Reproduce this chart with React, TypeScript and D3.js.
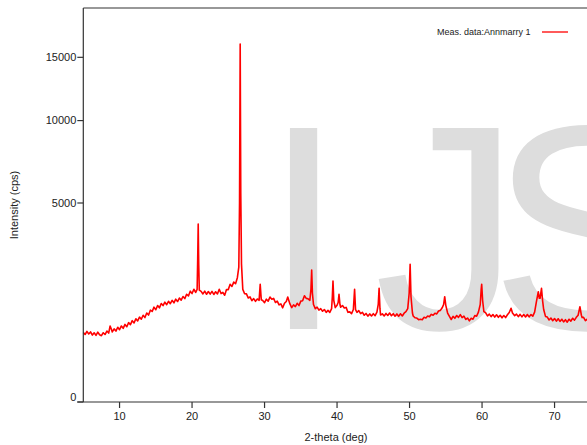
import React from "react";
import * as d3 from "d3";

const xTicks = [10, 20, 30, 40, 50, 60, 70];
const yTicks = [0, 5000, 10000, 15000];
const seriesName = "Meas. data:Annmarry 1";
const watermarkLetters = ["I", "J", "S"];

// [2-theta (deg), intensity (cps)]
const scan: [number, number][] = [
  [5.0, 610], [5.25, 575], [5.5, 630], [5.75, 585], [6.0, 620], [6.25, 565], [6.5, 605], [6.75, 560],
  [7.0, 615], [7.25, 570], [7.5, 555], [7.75, 605], [8.0, 575], [8.25, 635], [8.5, 600], [8.7, 730],
  [8.9, 660], [9.0, 620], [9.25, 675], [9.5, 635], [9.75, 705], [10.0, 660], [10.25, 730], [10.5, 685],
  [10.75, 760], [11.0, 715], [11.25, 795], [11.5, 755], [11.75, 835], [12.0, 790], [12.25, 875], [12.5, 830],
  [12.75, 910], [13.0, 865], [13.25, 950], [13.5, 900], [13.75, 1000], [14.0, 955], [14.25, 1065], [14.5, 1035],
  [14.75, 1135], [15.0, 1075], [15.25, 1175], [15.5, 1120], [15.75, 1225], [16.0, 1175], [16.25, 1260], [16.5, 1195],
  [16.75, 1280], [17.0, 1220], [17.25, 1305], [17.5, 1240], [17.75, 1335], [18.0, 1275], [18.25, 1365], [18.5, 1310],
  [18.75, 1405], [19.0, 1350], [19.25, 1465], [19.5, 1420], [19.75, 1550], [20.0, 1485], [20.25, 1605], [20.5, 1515],
  [20.7, 1600], [20.78, 2600], [20.85, 4000], [20.92, 2400], [21.0, 1580], [21.25, 1545], [21.5, 1475], [21.75, 1550],
  [22.0, 1465], [22.25, 1540], [22.5, 1470], [22.75, 1545], [23.0, 1460], [23.25, 1535], [23.5, 1475], [23.75, 1605],
  [24.0, 1485], [24.25, 1515], [24.5, 1440], [24.75, 1595], [25.0, 1595], [25.25, 1750], [25.5, 1685], [25.75, 1815],
  [26.0, 1765], [26.25, 1950], [26.45, 2300], [26.55, 5000], [26.64, 16180], [26.72, 5500], [26.82, 2400], [27.0, 1600],
  [27.25, 1480], [27.5, 1475], [27.75, 1365], [28.0, 1395], [28.25, 1295], [28.5, 1350], [28.75, 1280], [29.0, 1340],
  [29.25, 1305], [29.4, 1750], [29.55, 1320], [29.75, 1300], [30.0, 1245], [30.25, 1335], [30.5, 1285], [30.75, 1390],
  [31.0, 1335], [31.25, 1355], [31.5, 1250], [31.75, 1285], [32.0, 1190], [32.25, 1215], [32.5, 1120], [32.75, 1230],
  [33.0, 1275], [33.2, 1390], [33.5, 1215], [33.75, 1125], [34.0, 1190], [34.25, 1150], [34.5, 1230], [34.75, 1175],
  [35.0, 1285], [35.25, 1295], [35.5, 1425], [35.75, 1355], [36.0, 1345], [36.25, 1305], [36.4, 1600], [36.5, 2200],
  [36.6, 1500], [36.75, 1200], [37.0, 1100], [37.25, 1135], [37.5, 1065], [37.75, 1100], [38.0, 1040], [38.25, 1080],
  [38.5, 1015], [38.75, 1060], [39.0, 1015], [39.25, 1100], [39.35, 1400], [39.44, 1849], [39.55, 1300], [39.75, 1125],
  [40.0, 1180], [40.15, 1250], [40.27, 1465], [40.4, 1200], [40.5, 1135], [40.75, 1175], [41.0, 1115], [41.25, 1130],
  [41.5, 1015], [41.75, 1025], [42.0, 985], [42.25, 1080], [42.42, 1604], [42.55, 1080], [42.75, 1015], [43.0, 1055],
  [43.25, 985], [43.5, 1015], [43.75, 950], [44.0, 990], [44.25, 930], [44.5, 980], [44.75, 935], [45.0, 985],
  [45.25, 940], [45.5, 1020], [45.68, 1200], [45.8, 1633], [45.92, 1100], [46.0, 955], [46.25, 980], [46.5, 935],
  [46.75, 990], [47.0, 945], [47.25, 1000], [47.5, 940], [47.75, 985], [48.0, 930], [48.25, 980], [48.5, 930],
  [48.75, 983], [49.0, 935], [49.25, 995], [49.5, 1030], [49.75, 1100], [49.95, 1500], [50.08, 2394], [50.2, 1400],
  [50.4, 1000], [50.5, 935], [50.75, 895], [51.0, 890], [51.25, 855], [51.5, 865], [51.75, 855], [52.0, 905],
  [52.25, 890], [52.5, 935], [52.75, 920], [53.0, 970], [53.25, 950], [53.5, 995], [53.75, 980], [54.0, 1045],
  [54.25, 1060], [54.5, 1120], [54.7, 1200], [54.85, 1400], [55.0, 1180], [55.25, 1000], [55.5, 925], [55.75, 860],
  [56.0, 925], [56.25, 885], [56.5, 945], [56.75, 905], [57.0, 965], [57.25, 900], [57.5, 930], [57.75, 860],
  [58.0, 890], [58.25, 830], [58.5, 885], [58.75, 865], [59.0, 945], [59.25, 930], [59.5, 1020], [59.75, 1200],
  [59.88, 1600], [59.95, 1749], [60.08, 1300], [60.25, 1030], [60.5, 1005], [60.75, 935], [61.0, 975], [61.25, 920],
  [61.5, 965], [61.75, 910], [62.0, 960], [62.25, 905], [62.5, 950], [62.75, 895], [63.0, 945], [63.25, 900],
  [63.5, 960], [63.75, 1010], [64.0, 1109], [64.2, 1000], [64.5, 940], [64.75, 975], [65.0, 920], [65.25, 970],
  [65.5, 915], [65.75, 965], [66.0, 913], [66.25, 967], [66.5, 915], [66.75, 965], [67.0, 930], [67.25, 1020],
  [67.5, 1270], [67.76, 1536], [67.9, 1358], [68.0, 1358], [68.2, 1633], [68.35, 1300], [68.5, 1080], [68.75, 925],
  [69.0, 910], [69.25, 850], [69.5, 890], [69.75, 835], [70.0, 880], [70.25, 825], [70.5, 875], [70.75, 820],
  [71.0, 865], [71.25, 810], [71.5, 855], [71.75, 805], [72.0, 865], [72.25, 825], [72.5, 885], [72.75, 845],
  [73.0, 905], [73.25, 950], [73.5, 1147], [73.7, 950], [73.8, 900], [74.0, 905], [74.25, 835], [74.5, 865],
  [74.75, 830],
];

const W = 587;
const H = 445;
const left = 83.3;
const top = 8;
const bottom = 402;
const font = "'Liberation Sans', Arial, sans-serif";

export default function App() {
  const x = d3.scaleLinear().domain([5, 75]).range([left, left + 70 * 7.25]);
  const y = d3.scaleSqrt().domain([0, 19600]).range([bottom, top]);
  const line = d3
    .line<[number, number]>()
    .x((d) => x(d[0]))
    .y((d) => y(d[1]));
  const axisColor = "#333";
  const textColor = "#222";
  const wmDx = [0, 30, -30];

  return (
    <svg
      width={W}
      height={H}
      style={{ position: "absolute", left: 0, top: 0, background: "#fff" }}
      fontFamily={font}
    >
      <text x={263} y={329} fontSize={292} fill="#dddddd" fontFamily={font}>
        {watermarkLetters.map((c, i) => (
          <tspan key={c} dx={wmDx[i]}>
            {c}
          </tspan>
        ))}
      </text>
      <path d={line(scan) || ""} fill="none" stroke="#ff0000" strokeWidth={1.6} strokeLinejoin="round" />

      {/* axes */}
      <line x1={left} y1={top} x2={W} y2={top} stroke={axisColor} strokeWidth={1.2} />
      <line x1={left} y1={top} x2={left} y2={bottom} stroke={axisColor} strokeWidth={1.2} />
      <line x1={left - 6} y1={bottom} x2={W} y2={bottom} stroke={axisColor} strokeWidth={1.2} />
      {yTicks.map((t) => (
        <g key={"y" + t}>
          <line x1={left - 6} x2={left} y1={y(t)} y2={y(t)} stroke={axisColor} strokeWidth={1.2} />
          <text
            x={left - 7}
            y={y(t) - (t === 0 ? 5 : 0)}
            dy="0.35em"
            textAnchor="end"
            fontSize={11}
            fill={textColor}
          >
            {t}
          </text>
        </g>
      ))}
      {xTicks.map((t) => (
        <g key={"x" + t}>
          <line x1={x(t)} x2={x(t)} y1={bottom} y2={bottom + 6} stroke={axisColor} strokeWidth={1.2} />
          <text x={x(t)} y={bottom + 18} textAnchor="middle" fontSize={11} fill={textColor}>
            {t}
          </text>
        </g>
      ))}
      <text x={336} y={441} textAnchor="middle" fontSize={11} fill={textColor}>
        2-theta (deg)
      </text>
      <text
        transform={`translate(18,205) rotate(-90)`}
        textAnchor="middle"
        fontSize={11}
        fill={textColor}
      >
        Intensity (cps)
      </text>

      {/* legend */}
      <text x={437} y={35} fontSize={9} fill={textColor}>
        {seriesName}
      </text>
      <line x1={542} x2={568} y1={32} y2={32} stroke="#ff0000" strokeWidth={1.3} />
    </svg>
  );
}
